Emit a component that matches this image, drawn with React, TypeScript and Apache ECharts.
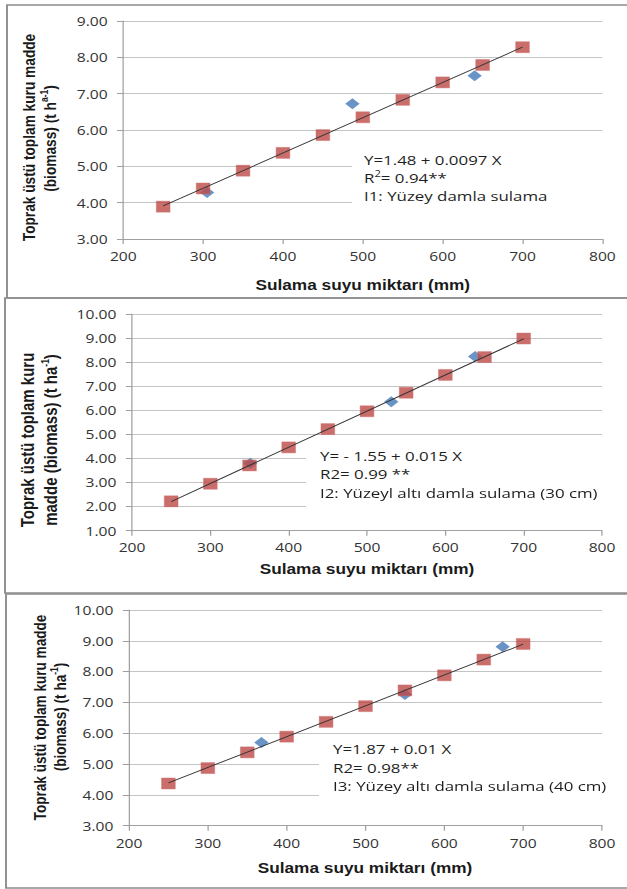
import React, { useEffect, useRef } from "react";
import * as echarts from "echarts";

// ---------- data ----------
const waterLevels = [250, 300, 350, 400, 450, 500, 550, 600, 650, 700];

const i1Squares = [3.89, 4.39, 4.88, 5.37, 5.86, 6.35, 6.83, 7.31, 7.79, 8.28];
const i1DiamondX = [305, 487, 640];
const i1DiamondY = [4.28, 6.72, 7.49];
const i1TrendX = [250, 700];
const i1TrendY = [3.91, 8.28];

const i2Squares = [2.22, 2.95, 3.71, 4.46, 5.22, 5.96, 6.73, 7.47, 8.21, 8.98];
const i2DiamondX = [351, 531, 638];
const i2DiamondY = [3.8, 6.36, 8.23];
const i2TrendX = [250, 700];
const i2TrendY = [2.21, 8.97];

const i3Squares = [4.37, 4.87, 5.38, 5.89, 6.37, 6.88, 7.39, 7.88, 8.39, 8.9];
const i3DiamondX = [368, 550, 674];
const i3DiamondY = [5.7, 7.26, 8.81];
const i3TrendX = [250, 700];
const i3TrendY = [4.39, 8.89];

const xMin = 200;
const xMax = 800;
const xStep = 100;
const yRanges = [
  [3, 9],
  [1, 10],
  [3, 10],
];

const xTitle = "Sulama suyu miktarı (mm)";
const yTitles = [
  ["Toprak üstü toplam kuru madde", "(biomass) (t h{sup|a-1})"],
  ["Toprak üstü toplam kuru", "madde (biomass) (t ha{sup|-1})"],
  ["Toprak üstü toplam kuru madde", "(biomass) (t ha{sup|-1})"],
];
const notes = [
  ["Y=1.48 + 0.0097 X", "R{sup|2}= 0.94**", "I1: Yüzey damla sulama"],
  ["Y= - 1.55 + 0.015 X", "R2= 0.99 **", "I2: Yüzeyl altı damla sulama (30 cm)"],
  ["Y=1.87 + 0.01 X", "R2= 0.98**", "I3: Yüzey altı damla sulama (40 cm)"],
];

// ---------- layout (chart space; whole chart is stretched horizontally) ----------
const SX = 1.25;
const W = 627 / SX;
const H = 889;

const grids = [
  { left: 98.6, top: 21, width: 383.3, height: 218 },
  { left: 105.6, top: 314, width: 376, height: 216.7 },
  { left: 103.2, top: 610, width: 378.4, height: 215.7 },
];
const xLabelMargin = [11, 10, 10.5];
const frames = [
  { x: 5.6, y: 5, h: 293 },
  { x: 4, y: 298, h: 295 },
  { x: 4.8, y: 594, h: 294 },
];
const whiteBoxes = [
  { x: 281.6, y: 148, w: 230, h: 62 },
  { x: 244.8, y: 445, w: 260, h: 67 },
  { x: 255.2, y: 742, w: 250, h: 62 },
];
const noteX = [291.2, 256, 266.4];
const noteY = [
  [160, 178, 196],
  [456, 474, 493],
  [749, 768, 786],
];
const xTitlePos = [
  [290.2, 285],
  [293.6, 569],
  [292, 868],
];
const yTitlePos = [
  { x1: 23.2, x2: 40, y1: 137.5, y2: 138.5, size: 13.7 },
  { x1: 22.4, x2: 40.8, y1: 440, y2: 440, size: 15 },
  { x1: 32, x2: 48, y1: 717.5, y2: 717, size: 13.6 },
];

const zip = (xs: number[], ys: number[]) => xs.map((x, i) => [x, ys[i]]);

const panels = [
  { sq: i1Squares, dx: i1DiamondX, dy: i1DiamondY, tx: i1TrendX, ty: i1TrendY },
  { sq: i2Squares, dx: i2DiamondX, dy: i2DiamondY, tx: i2TrendX, ty: i2TrendY },
  { sq: i3Squares, dx: i3DiamondX, dy: i3DiamondY, tx: i3TrendX, ty: i3TrendY },
];

const AXIS = "#a0a0a0";
const GRID = "#c4c4c4";
const LABEL = "#333333";
const FONT = "'Open Sans', sans-serif";
const BOLD = "'Liberation Sans', Arial, sans-serif";

function buildOption() {
  const xAxis = grids.map((_, i) => ({
    type: "value",
    gridIndex: i,
    min: xMin,
    max: xMax,
    interval: xStep,
    axisLine: { show: true, lineStyle: { color: AXIS, width: 1 } },
    axisTick: { show: true, length: 5, lineStyle: { color: AXIS } },
    splitLine: { show: false },
    axisLabel: { fontFamily: FONT, fontSize: 12.5, color: LABEL, margin: xLabelMargin[i] },
  }));
  const yAxis = grids.map((_, i) => ({
    type: "value",
    gridIndex: i,
    min: yRanges[i][0],
    max: yRanges[i][1],
    interval: 1,
    axisLine: { show: true, lineStyle: { color: AXIS, width: 1 } },
    axisTick: { show: true, length: 5, lineStyle: { color: AXIS } },
    splitLine: { show: true, lineStyle: { color: GRID, width: 1 } },
    axisLabel: {
      fontFamily: FONT,
      fontSize: 12.5,
      color: LABEL,
      margin: 12.5,
      formatter: (v: number) => v.toFixed(2),
    },
  }));

  const series: any[] = [];
  panels.forEach((p, i) => {
    series.push({
      type: "scatter",
      xAxisIndex: i,
      yAxisIndex: i,
      symbol: "diamond",
      symbolSize: [11.5, 11],
      itemStyle: { color: "#4578b8" },
      data: zip(p.dx, p.dy),
      z: 2,
    });
    series.push({
      type: "scatter",
      xAxisIndex: i,
      yAxisIndex: i,
      symbol: "rect",
      symbolSize: 11,
      itemStyle: { color: "#bd4a47", borderColor: "#d0706d", borderWidth: 0.5 },
      data: zip(waterLevels, p.sq),
      z: 3,
    });
    series.push({
      type: "line",
      xAxisIndex: i,
      yAxisIndex: i,
      symbol: "none",
      lineStyle: { color: "#333333", width: 0.9 },
      data: zip(p.tx, p.ty),
      z: 4,
    });
  });

  const graphic: any[] = [];
  frames.forEach((f) => {
    graphic.push({
      type: "rect",
      shape: { x: f.x, y: f.y, width: W + 20, height: f.h },
      style: { fill: "none", stroke: "#8c8c8c", lineWidth: 1.5 },
      z: 1,
    });
  });
  whiteBoxes.forEach((b) => {
    graphic.push({
      type: "rect",
      shape: { x: b.x, y: b.y, width: b.w, height: b.h },
      style: { fill: "#ffffff" },
      z: 50,
    });
  });
  notes.forEach((lines, i) => {
    lines.forEach((t, j) => {
      graphic.push({
        type: "text",
        x: noteX[i],
        y: noteY[i][j],
        z: 60,
        style: {
          text: t,
          fontFamily: FONT,
          fontSize: 13.5,
          fill: "#1f1f1f",
          align: "left",
          verticalAlign: "middle",
          lineHeight: 18,
          rich: {
            sup: { fontFamily: FONT, fontSize: 9, lineHeight: 10, verticalAlign: "top", fill: "#1f1f1f" },
          },
        },
      });
    });
  });
  xTitlePos.forEach((pos) => {
    graphic.push({
      type: "text",
      x: pos[0],
      y: pos[1],
      z: 60,
      style: {
        text: xTitle,
        fontFamily: BOLD,
        fontWeight: "bold",
        fontSize: 13.8,
        fill: "#1a1a1a",
        align: "center",
        verticalAlign: "middle",
      },
    });
  });
  yTitlePos.forEach((p, i) => {
    [
      [p.x1, p.y1, yTitles[i][0]],
      [p.x2, p.y2, yTitles[i][1]],
    ].forEach(([x, y, t]) => {
      graphic.push({
        type: "text",
        x: x as number,
        y: y as number,
        rotation: Math.PI / 2,
        z: 60,
        style: {
          text: t as string,
          fontFamily: BOLD,
          fontWeight: "bold",
          fontSize: p.size,
          fill: "#1a1a1a",
          align: "center",
          verticalAlign: "middle",
          lineHeight: 18,
          rich: {
            sup: {
              fontFamily: BOLD,
              fontWeight: "bold",
              fontSize: 8.5,
              lineHeight: 10,
              verticalAlign: "top",
              fill: "#1a1a1a",
            },
          },
        },
      });
    });
  });

  return {
    animation: false,
    backgroundColor: "#ffffff",
    grid: grids.map((g) => ({ ...g, containLabel: false })),
    xAxis,
    yAxis,
    series,
    graphic,
  };
}

export default function App() {
  const ref = useRef<HTMLDivElement>(null);
  useEffect(() => {
    if (!ref.current) return;
    const chart = echarts.init(ref.current, null, { renderer: "svg", width: W, height: H });
    chart.setOption(buildOption() as any);
    return () => chart.dispose();
  }, []);
  return (
    <div
      ref={ref}
      style={{
        position: "absolute",
        left: 0,
        top: 0,
        width: W,
        height: H,
        transform: `scaleX(${SX})`,
        transformOrigin: "0 0",
      }}
    />
  );
}
